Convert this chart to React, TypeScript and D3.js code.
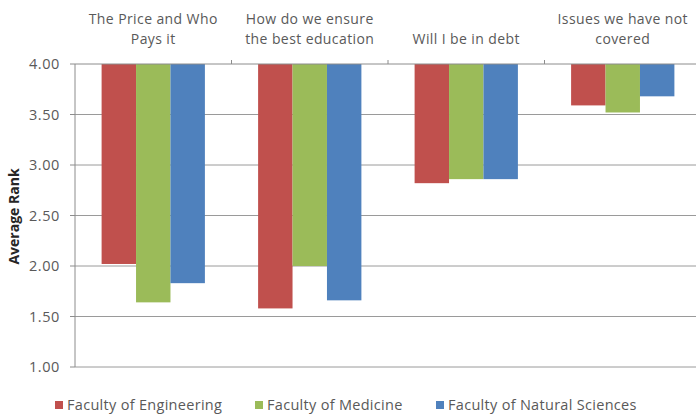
import React from "react";
import * as d3 from "d3";

const categoryLines: string[][] = [
  ["The Price and Who", "Pays it"],
  ["How do we ensure", "the best education"],
  ["Will I be in debt"],
  ["Issues we have not", "covered"],
];
const categories = categoryLines.map((l) => l.join(" "));
const seriesNames = ["Faculty of Engineering", "Faculty of Medicine", "Faculty of Natural Sciences"];
const engineering = [2.02, 1.58, 2.82, 3.59];
const medicine = [1.64, 2.0, 2.86, 3.52];
const natural = [1.83, 1.66, 2.86, 3.68];
const yTicks = [1.0, 1.5, 2.0, 2.5, 3.0, 3.5, 4.0];
const colors = ["#C0504D", "#9BBB59", "#4F81BD"];

const W = 696;
const H = 414;
const FONT = "'Open Sans', sans-serif";
const TEXT = "#595959";

export default function App() {
  const series = [engineering, medicine, natural];
  const left = 75;
  const right = 701;
  const top = 64;
  const bottom = 367;
  const y = d3.scaleLinear().domain([1, 4]).range([bottom, top]);
  const x = d3.scaleBand<string>().domain(categories).range([left, right]).paddingInner(0.34).paddingOuter(0.17);
  const xs = d3.scaleBand<number>().domain([0, 1, 2]).range([0, x.bandwidth()]);
  const step = x.step();
  const legendX = [55, 255, 436];

  return (
    <div style={{ position: "absolute", left: 0, top: 0, width: W, height: H, background: "#fff" }}>
      <svg width={W} height={H} style={{ display: "block" }} fontFamily={FONT}>
        <rect x={0} y={0} width={W} height={H} fill="#fff" />
        {/* gridlines */}
        {yTicks.filter((t) => t < 4).map((t) => (
          <line key={t} x1={left} x2={right} y1={y(t)} y2={y(t)} stroke="#9a9a9a" strokeWidth={1} />
        ))}
        {/* bars */}
        {categories.map((c, i) =>
          series.map((s, j) => (
            <rect
              key={c + j}
              x={(x(c) as number) + (xs(j) as number)}
              y={y(4)}
              width={xs.bandwidth()}
              height={y(s[i]) - y(4)}
              fill={colors[j]}
            />
          ))
        )}
        {/* y axis */}
        <line x1={left} x2={left} y1={top} y2={bottom} stroke="#8c8c8c" />
        {yTicks.map((t) => (
          <g key={"t" + t}>
            <line x1={left - 5} x2={left} y1={y(t)} y2={y(t)} stroke="#8c8c8c" />
            <text x={left - 15} y={y(t)} dy="0.35em" textAnchor="end" fontSize={14.5} letterSpacing={0.6} fill={TEXT}>
              {d3.format(".2f")(t)}
            </text>
          </g>
        ))}
        {/* category axis at top */}
        <line x1={left} x2={right} y1={y(4)} y2={y(4)} stroke="#8c8c8c" />
        {categories.map((c, i) => (
          <line key={"ct" + i} x1={left + step * (i + 1)} x2={left + step * (i + 1)} y1={y(4) - 4} y2={y(4)} stroke="#8c8c8c" />
        ))}
        {categoryLines.map((lines, i) => {
          const cx = (x(categories[i]) as number) + x.bandwidth() / 2;
          return (
            <text key={"cl" + i} x={cx} textAnchor="middle" fontSize={14} letterSpacing={0.4} fill={TEXT}>
              {lines.map((ln, k) => (
                <tspan key={k} x={cx} y={44 - (lines.length - 1 - k) * 20}>
                  {ln}
                </tspan>
              ))}
            </text>
          );
        })}
        {/* y axis title */}
        <text
          transform={`translate(19,${(top + bottom) / 2 + 1}) rotate(-90)`}
          textAnchor="middle"
          fontSize={14}
          fontWeight="bold"
          fill="#262626"
        >
          Average Rank
        </text>
        {/* legend */}
        {seriesNames.map((n, j) => (
          <g key={n}>
            <rect x={legendX[j]} y={401} width={8} height={8} fill={colors[j]} />
            <text x={legendX[j] + 12} y={405} dy="0.35em" fontSize={14.5} letterSpacing={0.3} fill={TEXT}>
              {n}
            </text>
          </g>
        ))}
      </svg>
    </div>
  );
}
